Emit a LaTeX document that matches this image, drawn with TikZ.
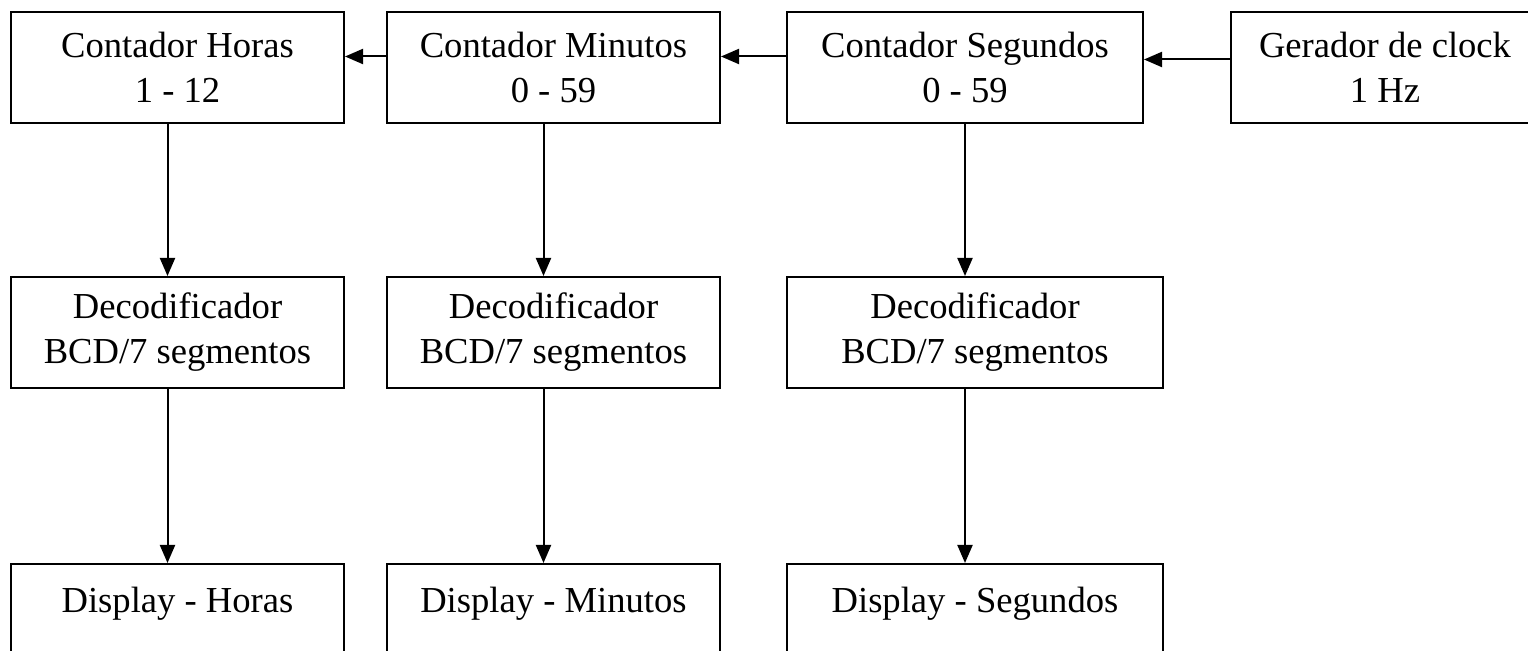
\documentclass[tikz,border=0pt]{standalone}
\usepackage{fontspec}
\setmainfont{Liberation Serif}
\usetikzlibrary{arrows.meta}
\begin{document}
\begin{tikzpicture}[x=0.5pt,y=-0.5pt,
  blk/.style={draw=black, line width=1pt, rectangle, inner sep=0pt, align=center,
    minimum height=55.5pt, font=\fontsize{18.3}{22.5}\selectfont},
  wnarrow/.style={blk, minimum width=166.5pt},
  wwide/.style={blk, minimum width=178pt},
  wwider/.style={blk, minimum width=188pt},
  disp/.style={text height=12pt, text depth=18.5pt},
  arr/.style={line width=1pt, -{Triangle[length=9pt,width=7.5pt]}}]
\useasboundingbox (0,0) rectangle (1528,651);
\clip (0,0) rectangle (1528,651);
% row 1
\node[wnarrow] (h1) at (177.5,67.5) {Contador Horas\\1 - 12};
\node[wnarrow] (m1) at (553.5,67.5) {Contador Minutos\\0 - 59};
\node[wwide]   (s1) at (965,67.5) {Contador Segundos\\0 - 59};
\node[blk, minimum width=154pt] (g1) at (1385,67.5) {Gerador de clock\\1 Hz};
% row 2
\node[wnarrow] (h2) at (177.5,332.5) {Decodificador\\BCD/7 segmentos};
\node[wnarrow] (m2) at (553.5,332.5) {Decodificador\\BCD/7 segmentos};
\node[wwider]  (s2) at (975,332.5) {Decodificador\\BCD/7 segmentos};
% row 3
\node[wnarrow, disp] (h3) at (177.5,619.5) {Display - Horas};
\node[wnarrow, disp] (m3) at (553.5,619.5) {Display - Minutos};
\node[wwider, disp]  (s3) at (975,619.5) {Display - Segundos};
% horizontal arrows
\draw[arr] ([yshift=4pt]g1.west) -- ([yshift=4pt]g1.west -| s1.east);
\draw[arr] ([yshift=5.5pt]s1.west) -- ([yshift=5.5pt]s1.west -| m1.east);
\draw[arr] ([yshift=5.5pt]m1.west) -- ([yshift=5.5pt]m1.west -| h1.east);
% vertical arrows
\draw[arr] ([xshift=-5pt]h1.south) -- ([xshift=-5pt]h1.south |- h2.north);
\draw[arr] ([xshift=-5pt]h2.south) -- ([xshift=-5pt]h2.south |- h3.north);
\draw[arr] ([xshift=-5pt]m1.south) -- ([xshift=-5pt]m1.south |- m2.north);
\draw[arr] ([xshift=-5pt]m2.south) -- ([xshift=-5pt]m2.south |- m3.north);
\draw[arr] (s1.south) -- (s1.south |- s2.north);
\draw[arr] (s1.south |- s2.south) -- (s1.south |- s3.north);
\end{tikzpicture}
\end{document}
